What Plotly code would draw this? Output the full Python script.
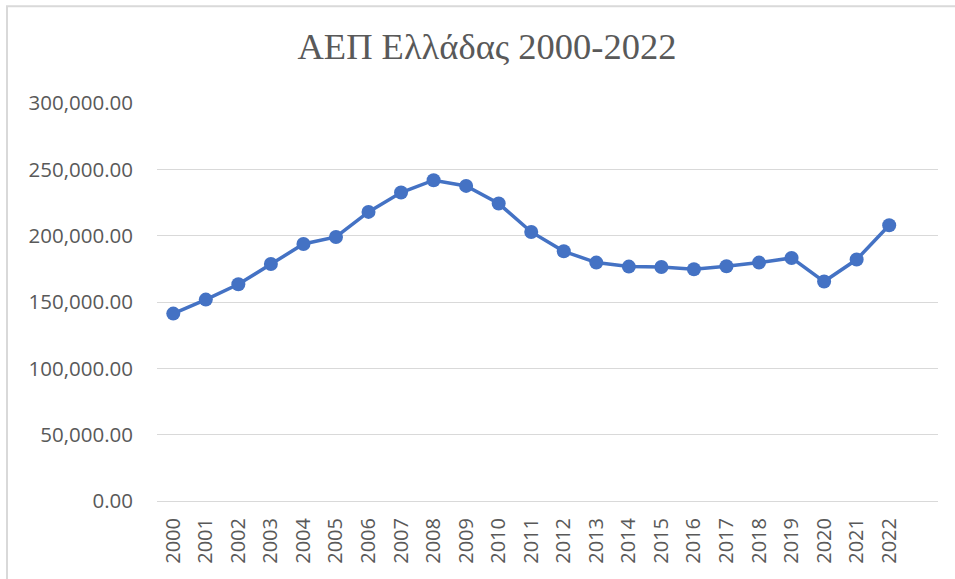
import plotly.graph_objects as go

years = list(range(2000, 2023))
gdp = [
    141250, 151800, 163350, 178650, 193700, 199000, 217900, 232500,
    241800, 237500, 224200, 202800, 188200, 179700, 176700, 176400,
    174700, 176900, 179700, 183200, 165400, 182000, 207800,
]
y_ticks = [0, 50000, 100000, 150000, 200000, 250000, 300000]

TEXT = "#595959"
GRID = "#D9D9D9"
BLUE = "#4472C4"

fig = go.Figure()

fig.add_trace(
    go.Scatter(
        x=years,
        y=gdp,
        mode="lines+markers",
        line=dict(color=BLUE, width=3.5),
        marker=dict(color=BLUE, size=14),
        showlegend=False,
    )
)

fig.update_layout(
    width=955,
    height=579,
    paper_bgcolor="white",
    plot_bgcolor="white",
    margin=dict(l=157, r=17, t=103, b=78),
    title=dict(
        text="ΑΕΠ Ελλάδας 2000-2022",
        x=487 / 955,
        xanchor="center",
        y=1 - 46 / 579,
        yanchor="middle",
        font=dict(family="Liberation Serif", size=36.5, color=TEXT),
    ),
    font=dict(family="Open Sans", color=TEXT, size=20),
)

fig.update_xaxes(
    range=[1999.5, 2023.5],
    tickvals=years,
    ticktext=[str(y) for y in years],
    tickangle=-90,
    showgrid=False,
    showline=False,
    zeroline=False,
    ticks="",
    ticklabelstandoff=12,
    tickfont=dict(family="Open Sans", size=20, color=TEXT),
)

fig.update_yaxes(
    range=[0, 300000],
    tickvals=y_ticks,
    ticktext=[f"{v:,.2f}" for v in y_ticks],
    showgrid=True,
    gridcolor=GRID,
    gridwidth=1.3,
    zeroline=True,
    zerolinecolor=GRID,
    zerolinewidth=1.3,
    showline=False,
    ticks="",
    ticklabelstandoff=23,
    tickfont=dict(family="Open Sans", size=20.5, color=TEXT),
)

# chart frame (only left and top edges fall inside the picture)
frame_x = (7 - 157) / 781
frame_y = (500.6 - 6) / 397.9
fig.add_shape(type="rect", xref="paper", yref="paper",
              x0=frame_x, x1=1.1, y0=-0.3, y1=frame_y,
              line=dict(color=GRID, width=2), fillcolor="rgba(0,0,0,0)",
              layer="below")

fig.write_html(
    "out.html",
    config={"displayModeBar": False},
    post_script="document.body.style.margin='0';",
)
